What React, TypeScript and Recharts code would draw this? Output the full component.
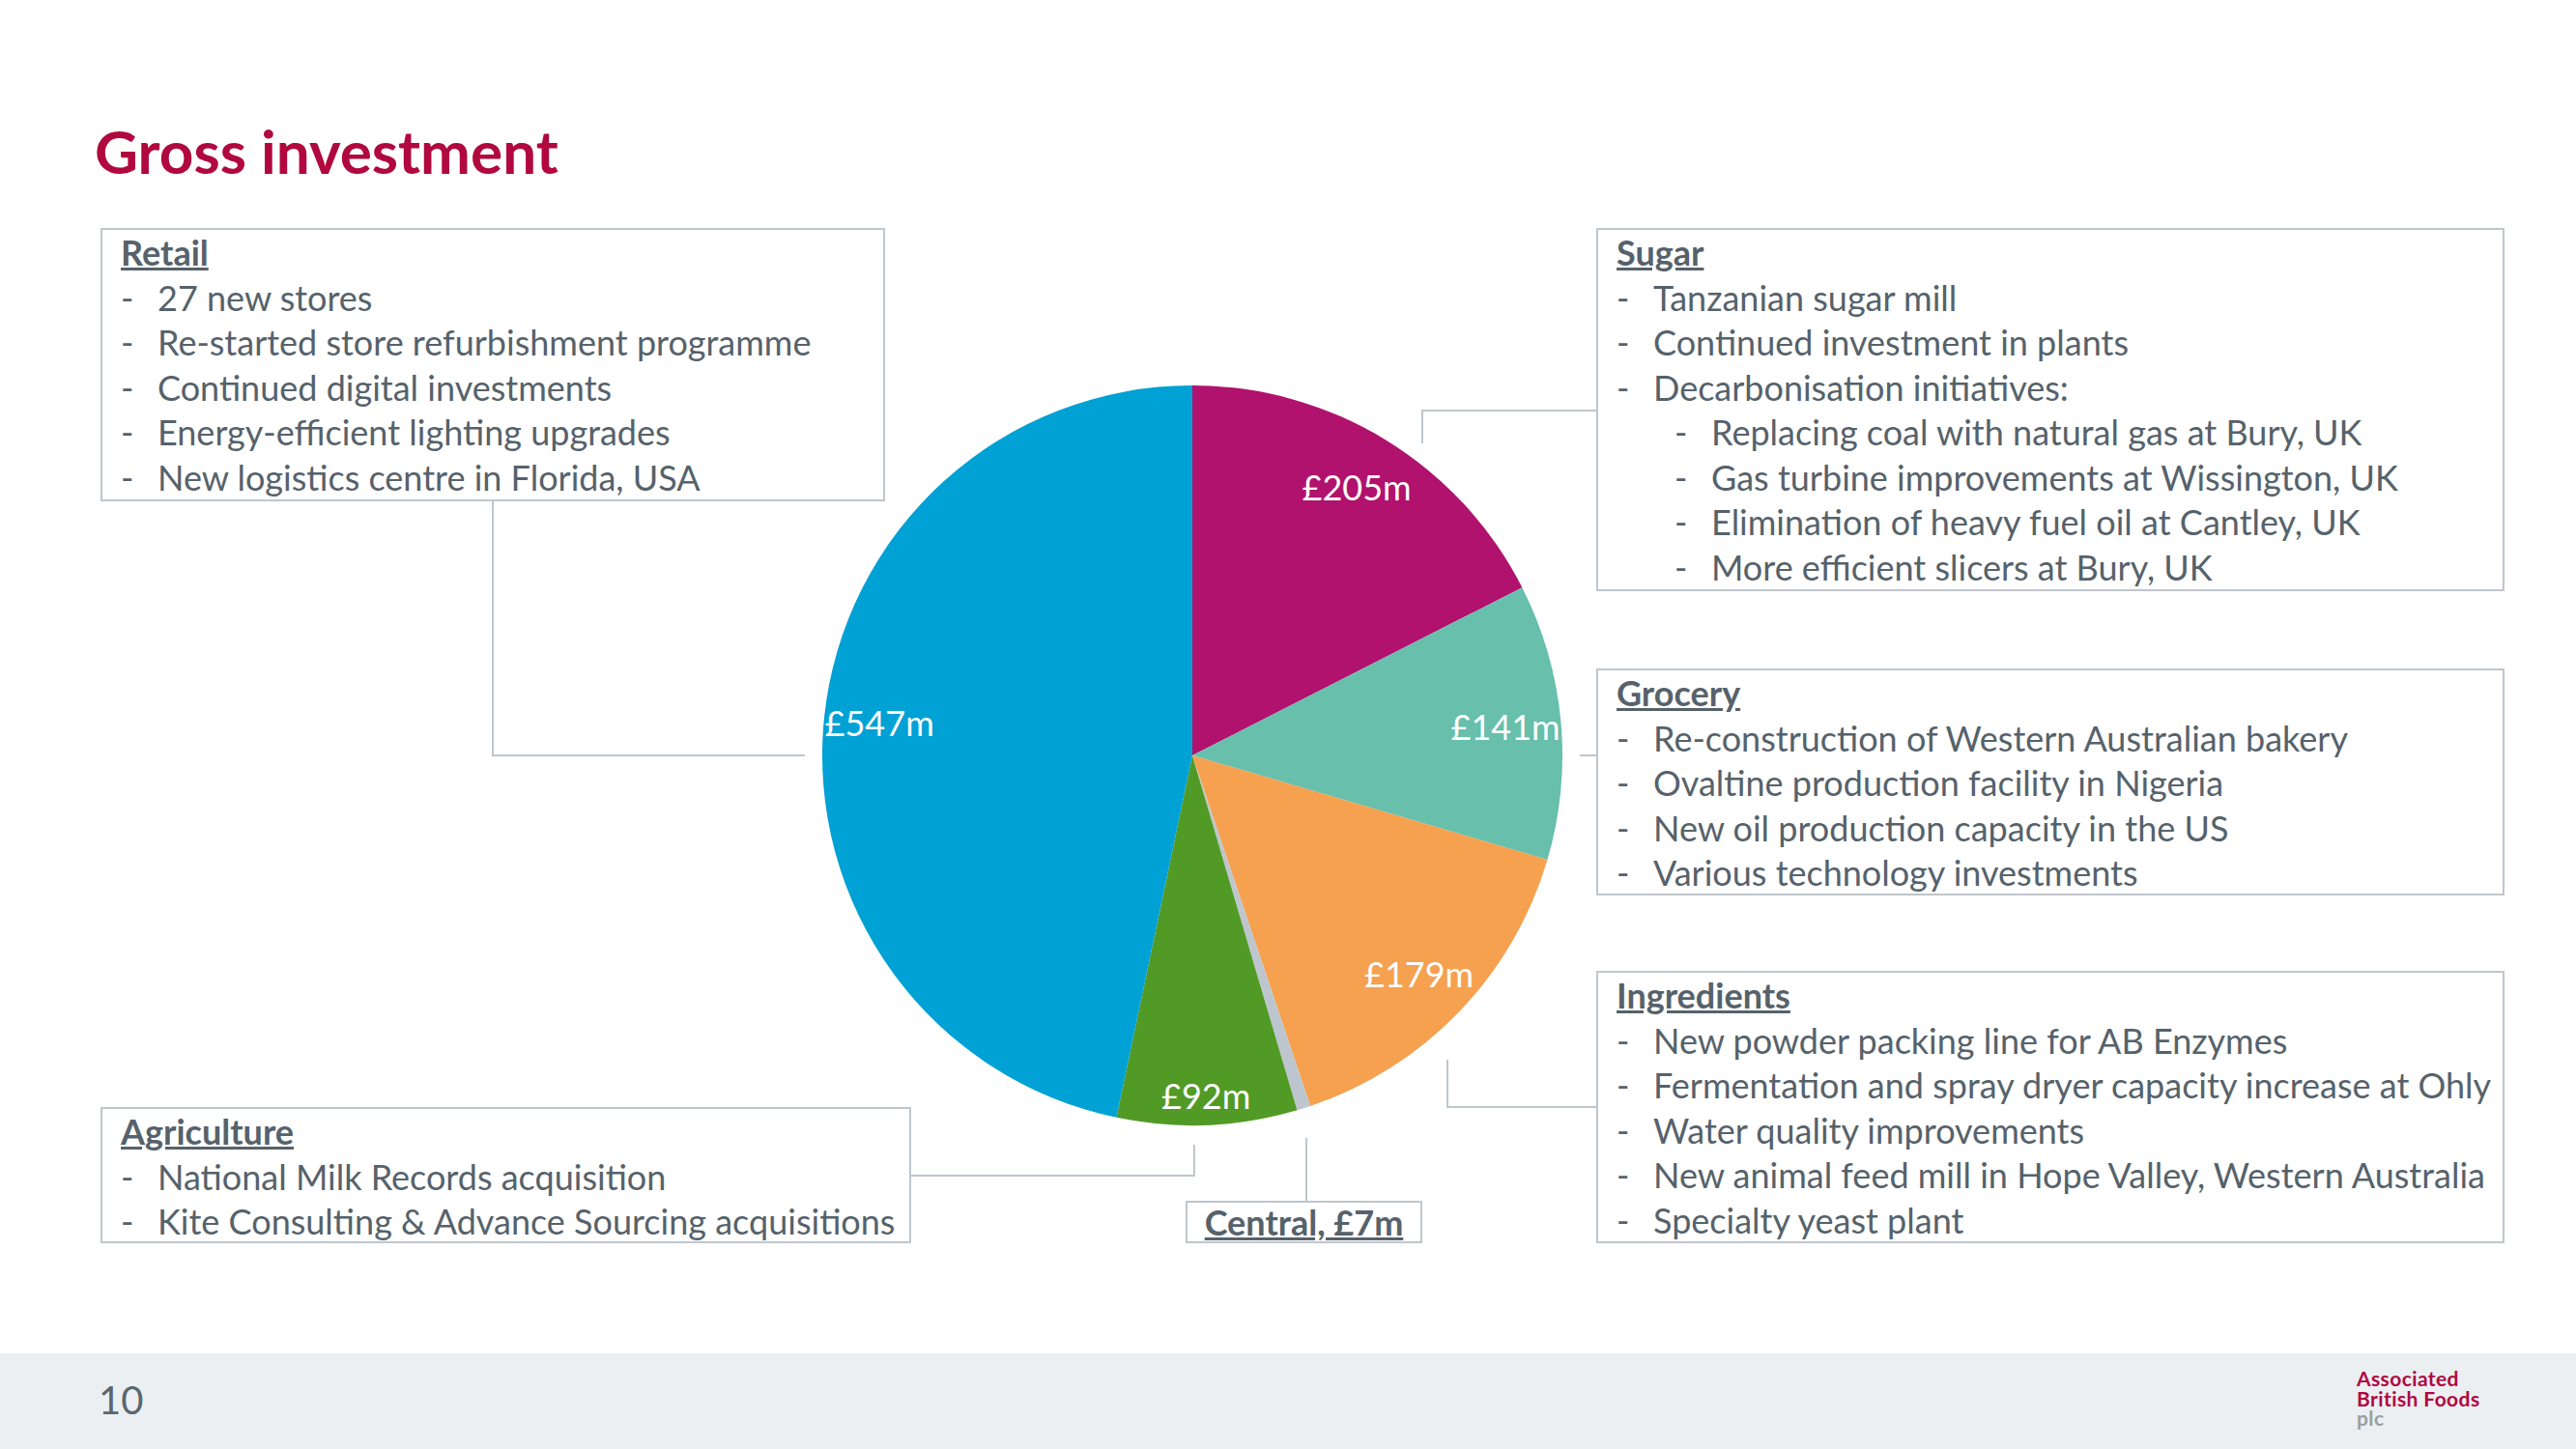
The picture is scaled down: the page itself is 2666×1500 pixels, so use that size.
import React from "react";
import { PieChart, Pie, Cell } from "recharts";

const segments = ["Sugar", "Grocery", "Ingredients", "Central", "Agriculture", "Retail"];
const investment = [205, 141, 179, 7, 92, 547];
const colours = ["#B0126E", "#67BFAC", "#F5A150", "#BDC6CE", "#529A26", "#00A1D4"];

const retailItems = [
  "27 new stores",
  "Re-started store refurbishment programme",
  "Continued digital investments",
  "Energy-efficient lighting upgrades",
  "New logistics centre in Florida, USA",
];
const sugarItems = ["Tanzanian sugar mill", "Continued investment in plants", "Decarbonisation initiatives:"];
const sugarSubItems = [
  "Replacing coal with natural gas at Bury, UK",
  "Gas turbine improvements at Wissington, UK",
  "Elimination of heavy fuel oil at Cantley, UK",
  "More efficient slicers at Bury, UK",
];
const groceryItems = [
  "Re-construction of Western Australian bakery",
  "Ovaltine production facility in Nigeria",
  "New oil production capacity in the US",
  "Various technology investments",
];
const ingredientsItems = [
  "New powder packing line for AB Enzymes",
  "Fermentation and spray dryer capacity increase at Ohly",
  "Water quality improvements",
  "New animal feed mill in Hope Valley, Western Australia",
  "Specialty yeast plant",
];
const agricultureItems = ["National Milk Records acquisition", "Kite Consulting & Advance Sourcing acquisitions"];

const pieData = segments.map((name, i) => ({ name, value: investment[i] }));

const FONT = "Lato, 'Open Sans', sans-serif";
const TEXT = "#56626B";
const BORDER = "#BFC6CC";
const LINE_H = 46.5;
const FS = 36;
const RADIAN = Math.PI / 180;

const renderLabel = (props: any) => {
  const { cx, cy, midAngle, outerRadius, name, value } = props;
  if (name === "Central") return null;
  const r = outerRadius * (name === "Agriculture" ? 0.92 : 0.85);
  const x = cx + r * Math.cos(-midAngle * RADIAN);
  const y = cy + r * Math.sin(-midAngle * RADIAN);
  return (
    <text
      x={x}
      y={y}
      fill="#ffffff"
      textAnchor="middle"
      dominantBaseline="central"
      style={{ fontFamily: FONT, fontSize: FS }}
    >
      {`£${value}m`}
    </text>
  );
};

const Row = ({ text, sub }: { text: string; sub?: boolean }) => (
  <div style={{ display: "flex", height: LINE_H, alignItems: "center", marginLeft: sub ? 60 : 0 }}>
    <span style={{ width: 38, flex: "none" }}>-</span>
    <span style={{ whiteSpace: "nowrap" }}>{text}</span>
  </div>
);

const Box = (props: {
  left: number;
  top: number;
  width: number;
  height: number;
  title: string;
  items: string[];
  subItems?: string[];
}) => (
  <div
    style={{
      position: "absolute",
      left: props.left,
      top: props.top,
      width: props.width,
      height: props.height,
      boxSizing: "border-box",
      border: `2px solid ${BORDER}`,
      padding: "0 0 0 19px",
      color: TEXT,
      fontFamily: FONT,
      fontSize: FS,
    }}
  >
    <div style={{ height: LINE_H, display: "flex", alignItems: "center", fontWeight: 700, textDecoration: "underline" }}>
      {props.title}
    </div>
    {props.items.map((t) => (
      <Row key={t} text={t} />
    ))}
    {(props.subItems || []).map((t) => (
      <Row key={t} text={t} sub />
    ))}
  </div>
);

const connectors = [
  "M510,519 V782 H833",
  "M1652,425 H1472 V459",
  "M1635,782 H1652",
  "M1652,1146 H1498 V1097",
  "M943,1217 H1236 V1185",
  "M1352,1243 V1178",
];

export default function App() {
  return (
    <div style={{ position: "relative", width: 2666, height: 1500, background: "#ffffff", overflow: "hidden" }}>
      <style>{"body{margin:0}"}</style>
      <div
        style={{
          position: "absolute",
          left: 98,
          top: 116,
          color: "#B0083F",
          fontFamily: FONT,
          fontWeight: 700,
          fontSize: 62,
          lineHeight: "80px",
        }}
      >
        Gross investment
      </div>

      <svg style={{ position: "absolute", left: 0, top: 0 }} width={2666} height={1500}>
        {connectors.map((d) => (
          <path key={d} d={d} fill="none" stroke={BORDER} strokeWidth={2} />
        ))}
      </svg>

      <div style={{ position: "absolute", left: 0, top: 0 }}>
        <PieChart width={2666} height={1500}>
          <Pie
            data={pieData}
            dataKey="value"
            nameKey="name"
            cx={1229}
            cy={777}
            outerRadius={383}
            startAngle={90}
            endAngle={-270}
            label={renderLabel}
            labelLine={false}
            stroke="none"
            isAnimationActive={false}
          >
            {pieData.map((d, i) => (
              <Cell key={d.name} fill={colours[i]} stroke="none" />
            ))}
          </Pie>
        </PieChart>
      </div>

      <Box left={104} top={236} width={812} height={283} title="Retail" items={retailItems} />
      <Box left={1652} top={236} width={940} height={376} title="Sugar" items={sugarItems} subItems={sugarSubItems} />
      <Box left={1652} top={692} width={940} height={235} title="Grocery" items={groceryItems} />
      <Box left={1652} top={1005} width={940} height={282} title="Ingredients" items={ingredientsItems} />
      <Box left={104} top={1146} width={839} height={141} title="Agriculture" items={agricultureItems} />

      <div
        style={{
          position: "absolute",
          left: 1227,
          top: 1243,
          width: 245,
          height: 44,
          boxSizing: "border-box",
          border: `2px solid ${BORDER}`,
          display: "flex",
          alignItems: "center",
          justifyContent: "center",
          color: TEXT,
          fontFamily: FONT,
          fontSize: FS,
          fontWeight: 700,
          textDecoration: "underline",
        }}
      >
        {`Central, £${investment[3]}m`}
      </div>

      <div style={{ position: "absolute", left: 0, top: 1401, width: 2666, height: 99, background: "#EBEFF2" }}>
        <div
          style={{
            position: "absolute",
            left: 102,
            top: 24,
            color: "#5A6770",
            fontFamily: FONT,
            fontSize: 40,
            lineHeight: "48px",
          }}
        >
          10
        </div>
        <div
          style={{
            position: "absolute",
            left: 2439,
            top: 16,
            fontFamily: FONT,
            fontWeight: 700,
            fontSize: 21,
            lineHeight: "20.5px",
            letterSpacing: 0.4,
            color: "#B0083F",
          }}
        >
          <div>Associated</div>
          <div>British Foods</div>
          <div style={{ color: "#9A9EA2" }}>plc</div>
        </div>
      </div>
    </div>
  );
}
